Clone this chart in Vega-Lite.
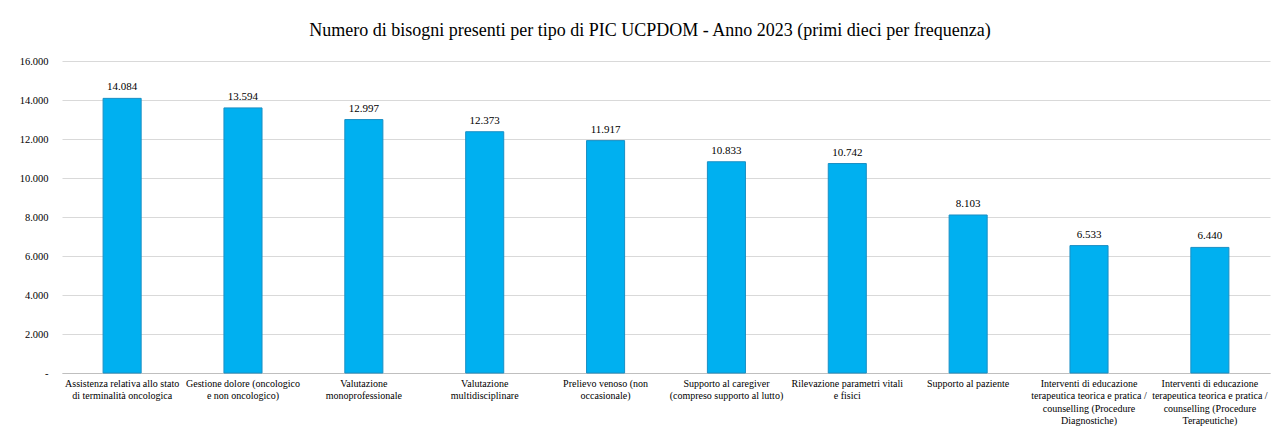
{
  "$schema": "https://vega.github.io/schema/vega-lite/v6.json",
  "width": 1208,
  "height": 312,
  "autosize": {"type": "none"},
  "padding": {"left": 62, "top": 61, "right": 9, "bottom": 57},
  "background": "white",
  "title": {
    "text": "Numero di bisogni presenti per tipo di PIC UCPDOM - Anno 2023 (primi dieci per frequenza)",
    "font": "Liberation Serif",
    "fontSize": 18,
    "fontWeight": "normal",
    "color": "#000000",
    "anchor": "middle",
    "dx": -16,
    "offset": 16
  },
  "config": {
    "view": {"stroke": null},
    "font": "Liberation Serif",
    "axis": {"labelFont": "Liberation Serif"},
    "text": {"font": "Liberation Serif"},
    "locale": {
      "number": {"decimal": ",", "thousands": ".", "grouping": [3], "currency": ["", " €"]}
    }
  },
  "data": {
    "values": [
      {"cat": "Assistenza relativa allo stato|di terminalità oncologica", "n": 14084},
      {"cat": "Gestione dolore (oncologico|e non oncologico)", "n": 13594},
      {"cat": "Valutazione|monoprofessionale", "n": 12997},
      {"cat": "Valutazione|multidisciplinare", "n": 12373},
      {"cat": "Prelievo venoso (non|occasionale)", "n": 11917},
      {"cat": "Supporto al caregiver|(compreso supporto al lutto)", "n": 10833},
      {"cat": "Rilevazione parametri vitali|e fisici", "n": 10742},
      {"cat": "Supporto al paziente", "n": 8103},
      {"cat": "Interventi di educazione|terapeutica teorica e pratica /|counselling (Procedure|Diagnostiche)", "n": 6533},
      {"cat": "Interventi di educazione|terapeutica teorica e pratica /|counselling (Procedure|Terapeutiche)", "n": 6440}
    ]
  },
  "encoding": {
    "x": {
      "field": "cat",
      "type": "nominal",
      "sort": null,
      "scale": {"paddingInner": 0.685, "paddingOuter": 0.34},
      "axis": {
        "title": null,
        "labelAngle": 0,
        "labelExpr": "split(datum.label, '|')",
        "labelFont": "Liberation Serif",
        "labelFontSize": 10,
        "labelColor": "#000000",
        "labelLimit": 0,
        "labelOverlap": false,
        "labelBound": false,
        "labelLineHeight": 12.5,
        "labelPadding": 5,
        "ticks": false,
        "domainColor": "#bfbfbf",
        "domainWidth": 1
      }
    },
    "y": {
      "field": "n",
      "type": "quantitative",
      "scale": {"domain": [0, 16000]},
      "axis": {
        "title": null,
        "values": [0, 2000, 4000, 6000, 8000, 10000, 12000, 14000, 16000],
        "labelExpr": "datum.value == 0 ? '-' : format(datum.value, ',.0f')",
        "labelFont": "Liberation Serif",
        "labelFontSize": 10.5,
        "labelColor": "#000000",
        "labelPadding": 14,
        "ticks": false,
        "domain": false,
        "gridColor": "#d9d9d9",
        "gridWidth": 1
      }
    }
  },
  "layer": [
    {
      "mark": {"type": "bar", "color": "#00b0f0", "stroke": "#1a8fc4", "strokeWidth": 1}
    },
    {
      "mark": {"type": "text", "dy": -11, "font": "Liberation Serif", "fontSize": 11, "color": "#000000"},
      "encoding": {
        "text": {"field": "n", "type": "quantitative", "format": ",.0f"}
      }
    }
  ]
}
